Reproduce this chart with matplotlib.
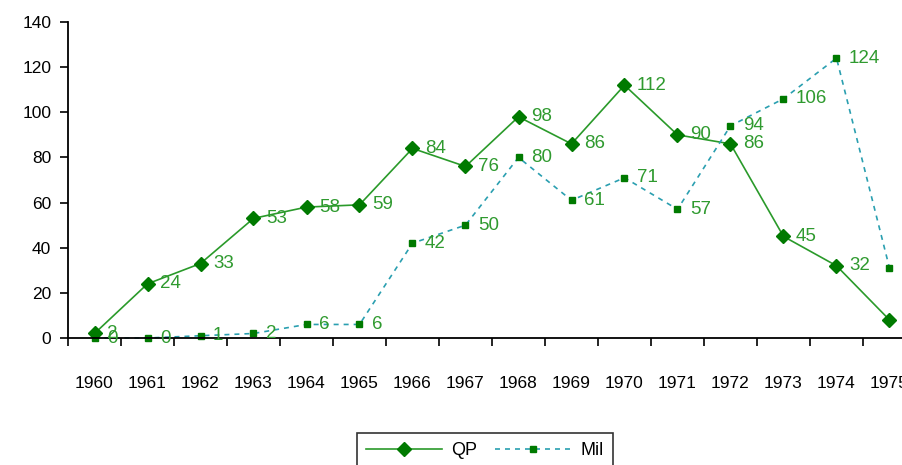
import matplotlib.pyplot as plt
from matplotlib.ticker import FixedLocator

plt.rcParams['font.family'] = ['Liberation Sans', 'DejaVu Sans']

years = list(range(1960, 1976))
qp = [2, 24, 33, 53, 58, 59, 84, 76, 98, 86, 112, 90, 86, 45, 32, 8]
mil = [0, 0, 1, 2, 6, 6, 42, 50, 80, 61, 71, 57, 94, 106, 124, 31]

fig = plt.figure(figsize=(9.03, 4.65), dpi=100)
ax = fig.add_axes([68/903, 1-338/465, 848/903, 316/465])

x = list(range(len(years)))
ax.plot(x, qp, color='#2a9a2a', linewidth=1.2, marker='D', markersize=7,
        markerfacecolor='#007a00', markeredgecolor='#007a00', label='QP', clip_on=False)
ax.plot(x, mil, color='#2a9fb0', linewidth=1.2, linestyle=(0, (3, 3)), marker='s', markersize=5,
        markerfacecolor='#007a00', markeredgecolor='#007a00', label='Mil', clip_on=False)

# etiquetas de datos
for i in x:
    ax.annotate(str(qp[i]), (i, qp[i]), xytext=(9, 0), textcoords='offset points',
                va='center', ha='left', color='#2f9a2f', fontsize=13.5, annotation_clip=False)
    ax.annotate(str(mil[i]), (i, mil[i]), xytext=(9, 0), textcoords='offset points',
                va='center', ha='left', color='#2f9a2f', fontsize=13.5, annotation_clip=False)

ax.set_xlim(-0.5, len(years) - 0.5)
ax.set_ylim(0, 140)
ax.set_yticks(range(0, 141, 20))
ax.set_xticks(x)
ax.set_xticklabels(years)
ax.xaxis.set_minor_locator(FixedLocator([i - 0.5 for i in range(len(years) + 1)]))
ax.tick_params(axis='x', which='major', length=0, pad=27, labelsize=12.5)
ax.tick_params(axis='x', which='minor', length=6, width=1.2)
ax.tick_params(axis='y', length=6, width=1.2, labelsize=12.5, pad=6)
for t in ax.xaxis.get_minor_ticks():
    t.tick1line.set_marker(3)

ax.spines['top'].set_visible(False)
ax.spines['right'].set_visible(False)
ax.spines['left'].set_linewidth(1.3)
ax.spines['bottom'].set_linewidth(1.3)

leg = fig.legend(loc='upper center', bbox_to_anchor=(485/903, 1-424/465), ncol=2,
                 frameon=True, fancybox=False, edgecolor='black', fontsize=13,
                 handlelength=4.2, columnspacing=1.0, handletextpad=0.5, borderpad=0.5)
leg.get_frame().set_linewidth(1.2)

fig.savefig('out.png', dpi=100)
